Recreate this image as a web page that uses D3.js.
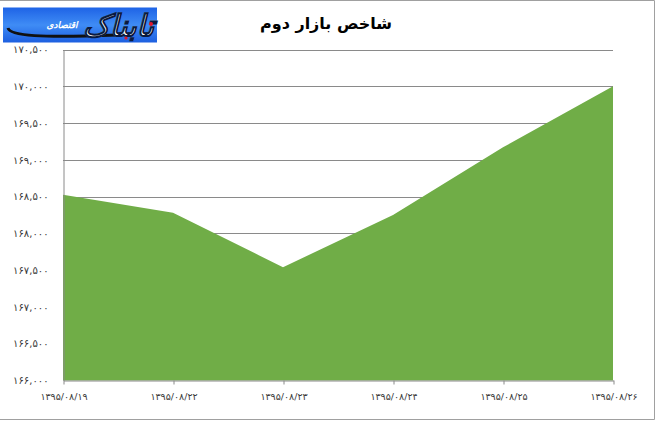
<!DOCTYPE html>
<html>
<head>
<meta charset="utf-8">
<script src="https://cdn.jsdelivr.net/npm/d3@7"></script>
<style>
  html, body { margin: 0; padding: 0; background: #fff; }
  svg { display: block; }
</style>
</head>
<body>
<svg id="chart" width="655" height="421"></svg>
<script>
// ---- data ----
const categories = ["۱۳۹۵/۰۸/۱۹", "۱۳۹۵/۰۸/۲۲", "۱۳۹۵/۰۸/۲۳", "۱۳۹۵/۰۸/۲۴", "۱۳۹۵/۰۸/۲۵", "۱۳۹۵/۰۸/۲۶"];
const values = [168525, 168280, 167540, 168250, 169170, 170000];
const yTicks = [166000, 166500, 167000, 167500, 168000, 168500, 169000, 169500, 170000, 170500];
const yTickLabels = ["۱۶۶,۰۰۰", "۱۶۶,۵۰۰", "۱۶۷,۰۰۰", "۱۶۷,۵۰۰", "۱۶۸,۰۰۰", "۱۶۸,۵۰۰", "۱۶۹,۰۰۰", "۱۶۹,۵۰۰", "۱۷۰,۰۰۰", "۱۷۰,۵۰۰"];
const title = "شاخص بازار دوم";

// ---- layout ----
const svg = d3.select("#chart");
const plot = { left: 63, right: 613, top: 49.5, bottom: 380.5 };
const gridColor = "#8a8a8a";
const labelColor = "#3a3a3a";
const font = "'DejaVu Sans', sans-serif";

const x = d3.scalePoint().domain(categories).range([plot.left, plot.right]);
const y = d3.scaleLinear().domain([yTicks[0], yTicks[yTicks.length - 1]]).range([plot.bottom, plot.top]);

// outer frame (worksheet-style border)
svg.append("line").attr("x1", 0).attr("x2", 654.5).attr("y1", 0.5).attr("y2", 0.5).attr("stroke", "#a0a0a0");
svg.append("line").attr("x1", 654.5).attr("x2", 654.5).attr("y1", 0.5).attr("y2", 419.5).attr("stroke", "#a0a0a0");
svg.append("line").attr("x1", 0).attr("x2", 654.5).attr("y1", 419.5).attr("y2", 419.5).attr("stroke", "#a0a0a0");

// gridlines
svg.append("g")
  .selectAll("line")
  .data(yTicks.slice(1))
  .join("line")
  .attr("x1", plot.left).attr("x2", plot.right)
  .attr("y1", d => Math.round(y(d)) + 0.5).attr("y2", d => Math.round(y(d)) + 0.5)
  .attr("stroke", gridColor).attr("stroke-width", 1);

// area
const area = d3.area()
  .x((d, i) => x(categories[i]))
  .y0(y(yTicks[0]))
  .y1(d => y(d));
svg.append("path")
  .datum(values)
  .attr("d", area)
  .attr("fill", "#70AD47");

// y axis
const yAxis = d3.axisLeft(y)
  .tickValues(yTicks)
  .tickSize(0)
  .tickPadding(15)
  .tickFormat((d, i) => yTickLabels[i]);
const gy = svg.append("g")
  .attr("transform", `translate(${plot.left + 0.5},0)`)
  .call(yAxis);
gy.select(".domain").attr("stroke", gridColor);
gy.selectAll("text")
  .attr("fill", labelColor)
  .style("font-family", font)
  .style("font-size", "10px");

// x axis
const xAxis = d3.axisBottom(x)
  .tickSize(4)
  .tickSizeOuter(0)
  .tickPadding(9);
const gx = svg.append("g")
  .attr("transform", `translate(0.5,${Math.round(plot.bottom) - 0.5})`)
  .call(xAxis);
gx.select(".domain").attr("stroke", gridColor);
gx.selectAll(".tick line").attr("stroke", gridColor);
gx.selectAll("text")
  .attr("fill", labelColor)
  .style("font-family", font)
  .style("font-size", "9.5px");

// title
svg.append("text")
  .attr("x", 326)
  .attr("y", 29)
  .attr("text-anchor", "middle")
  .attr("fill", "#000")
  .style("font-family", font)
  .style("font-weight", "bold")
  .style("font-size", "16px")
  .text(title);

// logo
const defs = svg.append("defs");
const lg = defs.append("linearGradient").attr("id", "logoGrad").attr("x1", 0).attr("y1", 0).attr("x2", 0).attr("y2", 1);
lg.append("stop").attr("offset", "0%").attr("stop-color", "#1e63e6");
lg.append("stop").attr("offset", "50%").attr("stop-color", "#3f8cf5");
lg.append("stop").attr("offset", "100%").attr("stop-color", "#1d5fe0");
const logo = svg.append("g");
logo.append("rect").attr("x", 3).attr("y", 7.5).attr("width", 154).attr("height", 35).attr("fill", "url(#logoGrad)");
logo.append("path")
  .attr("d", "M8,28 C10,36 40,38 118,35")
  .attr("fill", "none").attr("stroke", "#111").attr("stroke-width", 3);
logo.append("text")
  .attr("x", 154).attr("y", 36)
  .attr("text-anchor", "end")
  .attr("fill", "#fff").attr("stroke", "#0a1a40").attr("stroke-width", 0.9)
  .style("font-family", font).style("font-weight", "bold").style("font-style", "italic")
  .style("font-size", "30px")
  .text("تابناک");
logo.append("text")
  .attr("x", 62).attr("y", 28)
  .attr("text-anchor", "middle")
  .attr("fill", "#fff")
  .style("font-family", font).style("font-weight", "bold").style("font-style", "italic")
  .style("font-size", "9px")
  .text("اقتصادی");
logo.append("circle").attr("cx", 151).attr("cy", 24).attr("r", 2).attr("fill", "#e0182b");
logo.append("circle").attr("cx", 126).attr("cy", 38).attr("r", 1.6).attr("fill", "#e0182b");
</script>
</body>
</html>
